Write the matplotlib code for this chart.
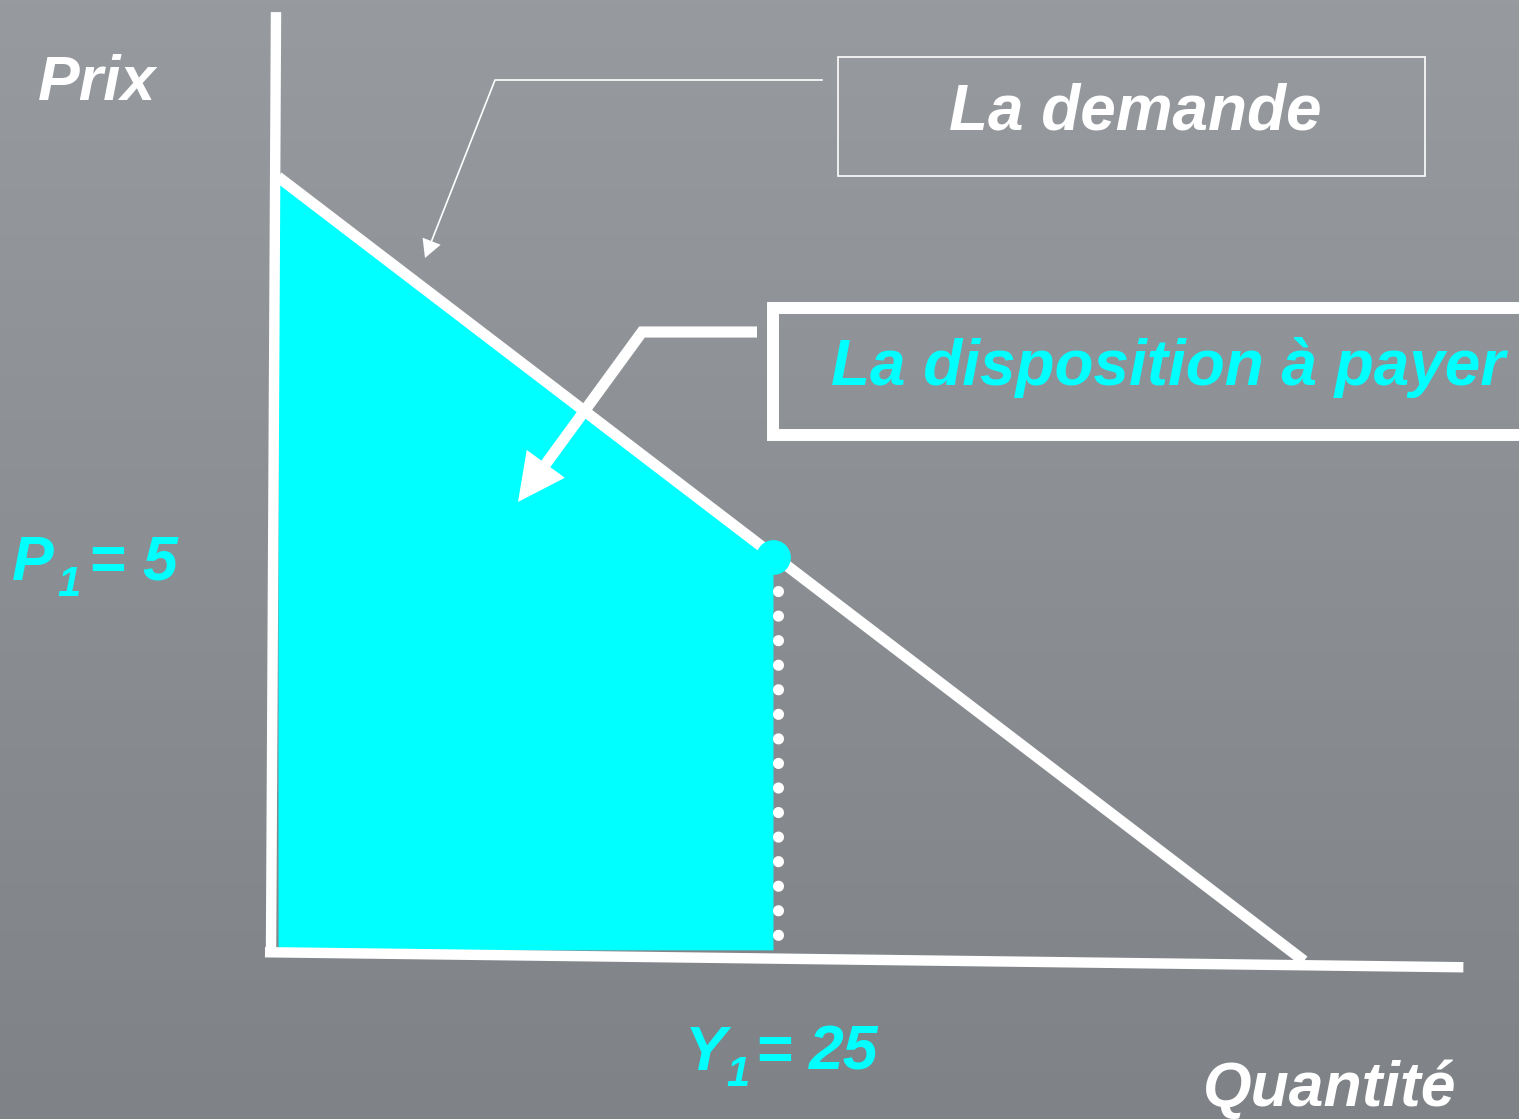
import matplotlib.pyplot as plt
import matplotlib.patches as patches
from matplotlib.lines import Line2D
from matplotlib.colors import LinearSegmentedColormap
import numpy as np

# canvas size in pixels
W, H = 1519, 1119

# demand curve (quantity, price)
demand_q = [0.3, 51.5]
demand_p = [9.8, -0.1]

# equilibrium point
y1 = 25
p1 = 5

# axes drawn by hand (slightly tilted like the slide)
vaxis_q = [0.2, -0.05]
vaxis_p = [11.88, -0.03]
haxis_q = [-0.35, 59.45]
haxis_p = [0.01, -0.18]

CYAN = '#00ffff'
FONT = 'Liberation Sans'

fig = plt.figure(figsize=(W / 100, H / 100), dpi=100)

# grey gradient background, lighter at the top
bg = fig.add_axes([0, 0, 1, 1], zorder=-5)
grad = np.linspace(0, 1, 256).reshape(-1, 1)
bg.imshow(grad, aspect='auto', extent=[0, 1, 0, 1], origin='lower',
          cmap=LinearSegmentedColormap.from_list('g', ['#7f8388', '#979a9e']))
bg.axis('off')

ax = fig.add_axes([0, 0, 1, 1])
ax.patch.set_alpha(0)
# pixel x = 272 + 20.04*q ; pixel y = 953 - 79.2*p
ax.set_xlim(-272 / 20.04, (W - 272) / 20.04)
ax.set_ylim((953 - H) / 79.2, 953 / 79.2)
ax.axis('off')


def px(x, y):
    # pixel position -> figure fraction
    return x / W, 1 - y / H


def polyline(points, **kw):
    xs = [px(*p)[0] for p in points]
    ys = [px(*p)[1] for p in points]
    fig.lines.append(Line2D(xs, ys, transform=fig.transFigure, **kw))


# shaded willingness to pay
q_fill = [demand_q[0], y1]
p_top = np.interp(q_fill, demand_q, demand_p)
ax.fill_between(q_fill, p_top, 0.04, color=CYAN, lw=0, zorder=1)

# axes
ax.plot(vaxis_q, vaxis_p, color='white', lw=7.5, solid_capstyle='butt', zorder=2)
ax.plot(haxis_q, haxis_p, color='white', lw=7.5, solid_capstyle='butt', zorder=2)

# demand line
ax.plot(demand_q, demand_p, color='white', lw=8, solid_capstyle='butt', zorder=3)

# dotted drop line and the point
ax.plot([y1 + 0.25, y1 + 0.25], [p1 - 0.43, 0.12], color='white', lw=8,
        linestyle=(0, (0.01, 2.2)), dash_capstyle='round', zorder=3)
ax.plot([y1], [p1], 'o', color=CYAN, ms=25, mec='none', zorder=4)

# --- annotations (figure coordinates) ---
# "La demande" box and thin pointer
fig.patches.append(patches.Rectangle(px(838, 176), 587 / W, 119 / H, fill=False,
                                     ec='white', lw=1.2, transform=fig.transFigure))
polyline([(822, 80), (495, 80), (430, 245)], color='white', lw=1.2)
ax.annotate('', xy=px(425, 258), xycoords='figure fraction',
            xytext=px(495, 80), textcoords='figure fraction',
            arrowprops=dict(arrowstyle='-|>,head_length=13,head_width=7', mutation_scale=1,
                            color='white', lw=0, shrinkA=0, shrinkB=0))
fig.text(*px(1135, 130), 'La demande', color='white', fontsize=46, fontweight='bold',
         fontstyle='italic', family=FONT, ha='center', va='baseline')

# "La disposition à payer" box and thick pointer
polyline([(1560, 308), (773, 308), (773, 435), (1560, 435)], color='white', lw=8.6,
         solid_joinstyle='miter')
polyline([(757, 332), (642, 332), (545, 465)], color='white', lw=8,
         solid_joinstyle='miter', solid_capstyle='butt')
ax.annotate('', xy=px(518, 502), xycoords='figure fraction',
            xytext=px(642, 332), textcoords='figure fraction',
            arrowprops=dict(arrowstyle='-|>,head_length=34,head_width=17', mutation_scale=1,
                            color='white', lw=0, shrinkA=0, shrinkB=0))
fig.text(*px(1168, 385), 'La disposition à payer', color=CYAN, fontsize=46,
         fontweight='bold', fontstyle='italic', family=FONT, ha='center', va='baseline')

# axis labels
txt = dict(fontweight='bold', fontstyle='italic', family=FONT, va='baseline')
fig.text(*px(38, 100), 'Prix', color='white', fontsize=45, ha='left', **txt)
fig.text(*px(1203, 1106), 'Quantité', color='white', fontsize=45, ha='left', **txt)

# P1 = 5
fig.text(*px(12, 580), 'P', color=CYAN, fontsize=45, ha='left', **txt)
fig.text(*px(57, 596), '1', color=CYAN, fontsize=30, ha='left', **txt)
fig.text(*px(88, 580), '=', color=CYAN, fontsize=45, ha='left', **txt)
fig.text(*px(142, 580), f'{p1}', color=CYAN, fontsize=45, ha='left', **txt)

# Y1 = 25
fig.text(*px(685, 1070), 'Y', color=CYAN, fontsize=45, ha='left', **txt)
fig.text(*px(726, 1086), '1', color=CYAN, fontsize=30, ha='left', **txt)
fig.text(*px(755, 1070), '=', color=CYAN, fontsize=45, ha='left', **txt)
fig.text(*px(809, 1070), f'{y1}', color=CYAN, fontsize=45, ha='left', **txt)

fig.savefig('out.png', dpi=100)
